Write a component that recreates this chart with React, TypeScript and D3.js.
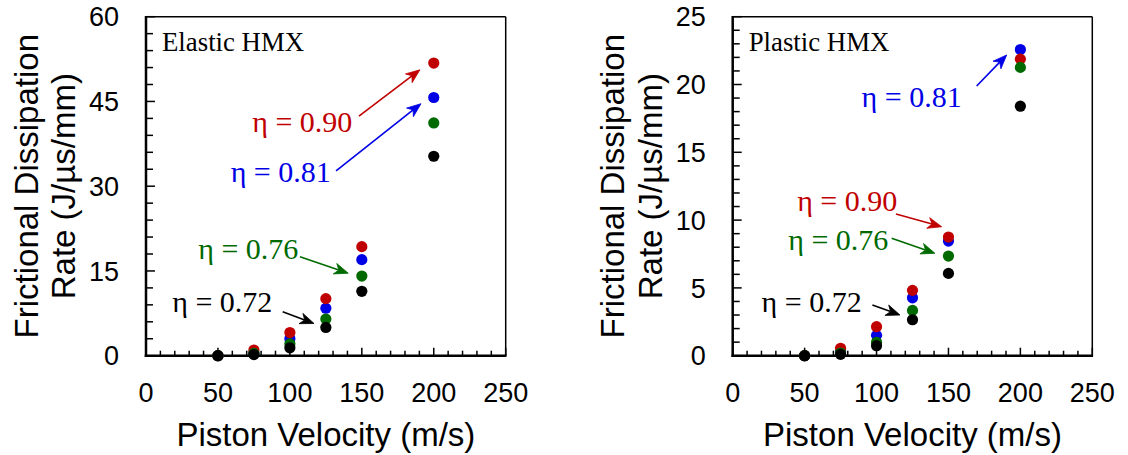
import React from "react";
import * as d3 from "d3";

const velocities = [50, 75, 100, 125, 150, 200];

// Elastic HMX
const elastic090 = [0, 1.0, 4.1, 10.1, 19.3, 51.8];
const elastic081 = [0, 0.5, 3.0, 8.4, 17.0, 45.7];
const elastic076 = [0, 0.4, 2.1, 6.5, 14.1, 41.2];
const elastic072 = [0, 0.2, 1.4, 5.0, 11.4, 35.3];

// Plastic HMX
const plastic090 = [0, 0.55, 2.14, 4.82, 8.75, 21.87];
const plastic081 = [0, 0.3, 1.5, 4.27, 8.45, 22.58];
const plastic076 = [0, 0.2, 0.99, 3.34, 7.35, 21.26];
const plastic072 = [0, 0.1, 0.74, 2.65, 6.07, 18.4];

const xTicks = [0, 50, 100, 150, 200, 250];
const elasticYTicks = [0, 15, 30, 45, 60];
const plasticYTicks = [0, 5, 10, 15, 20, 25];

const RED = "#c00000";
const BLUE = "#0000e6";
const GREEN = "#006a00";
const BLACK = "#000000";

type Series = { name: string; color: string; values: number[] };
type Note = { label: string; color: string; tx: number; ty: number; ax: number; ay: number; bx: number; by: number };

const elasticSeries: Series[] = [
  { name: "0.81", color: BLUE, values: elastic081 },
  { name: "0.90", color: RED, values: elastic090 },
  { name: "0.76", color: GREEN, values: elastic076 },
  { name: "0.72", color: BLACK, values: elastic072 },
];
const plasticSeries: Series[] = [
  { name: "0.81", color: BLUE, values: plastic081 },
  { name: "0.90", color: RED, values: plastic090 },
  { name: "0.76", color: GREEN, values: plastic076 },
  { name: "0.72", color: BLACK, values: plastic072 },
];

// annotations in data coordinates: text end (tx,ty), arrow from (ax,ay) to (bx,by)
const elasticNotes: Note[] = [
  { label: "η = 0.90", color: RED, tx: 143.4, ty: 39.6, ax: 148.0, ay: 42.4, bx: 190.4, by: 50.6 },
  { label: "η = 0.81", color: BLUE, tx: 128.4, ty: 30.8, ax: 132.1, ay: 32.7, bx: 191.1, by: 44.6 },
  { label: "η = 0.76", color: GREEN, tx: 105.9, ty: 17.2, ax: 107.0, ay: 17.5, bx: 140.6, by: 14.6 },
  { label: "η = 0.72", color: BLACK, tx: 87.8, ty: 7.8, ax: 95.0, ay: 7.8, bx: 116.8, by: 5.7 },
];
const plasticNotes: Note[] = [
  { label: "η = 0.81", color: BLUE, tx: 159.2, ty: 18.36, ax: 169.6, ay: 19.89, bx: 190.5, by: 22.18 },
  { label: "η = 0.90", color: RED, tx: 114.4, ty: 10.69, ax: 113.5, ay: 10.45, bx: 145.3, by: 9.51 },
  { label: "η = 0.76", color: GREEN, tx: 108.2, ty: 7.8, ax: 110.5, ay: 8.66, bx: 140.6, by: 7.55 },
  { label: "η = 0.72", color: BLACK, tx: 89.7, ty: 3.24, ax: 97.1, ay: 3.74, bx: 116.3, by: 3.0 },
];

const SANS = "'Liberation Sans', Arial, sans-serif";
const SERIF = "'Liberation Serif', 'Times New Roman', serif";

function Arrow({ x1, y1, x2, y2, color }: { x1: number; y1: number; x2: number; y2: number; color: string }) {
  const ang = Math.atan2(y2 - y1, x2 - x1);
  const L = 14, W = 5.5, N = 10;
  const ux = Math.cos(ang), uy = Math.sin(ang);
  const px = -uy, py = ux;
  const bx = x2 - ux * L, by = y2 - uy * L;
  const nx = x2 - ux * N, ny = y2 - uy * N;
  const head = `M${x2},${y2} L${bx + px * W},${by + py * W} L${nx},${ny} L${bx - px * W},${by - py * W} Z`;
  return (
    <g>
      <line x1={x1} y1={y1} x2={nx} y2={ny} stroke={color} strokeWidth={1.6} />
      <path d={head} fill={color} stroke={color} strokeWidth={0.8} strokeLinejoin="miter" />
    </g>
  );
}

function Panel({ left, right, yMax, yTicks, minorStep, series, notes, title }: {
  left: number; right: number; yMax: number; yTicks: number[]; minorStep: number;
  series: Series[]; notes: Note[]; title: string;
}) {
  const top = 16.7, bottom = 355.7;
  const x = d3.scaleLinear().domain([0, 250]).range([left, right]);
  const y = d3.scaleLinear().domain([0, yMax]).range([bottom, top]);
  const xMinor = d3.range(0, 250.001, 10);
  const yMinor = d3.range(0, yMax + 0.001, minorStep);
  const isMajorX = (v: number) => Math.abs(v % 50) < 1e-6;
  const majorYStep = yTicks[1] - yTicks[0];
  const isMajorY = (v: number) => Math.abs(((v + 1e-6) % majorYStep)) < 1e-3;
  return (
    <g>
      {/* ticks */}
      {xMinor.map((v) => (
        <line key={"xt" + v} x1={x(v)} x2={x(v)} y1={bottom} y2={bottom - (isMajorX(v) ? 8 : 5)} stroke="#000" strokeWidth={1.5} />
      ))}
      {yMinor.map((v) => (
        <line key={"yt" + v} x1={left} x2={left + (isMajorY(v) ? 9 : 7)} y1={y(v)} y2={y(v)} stroke="#000" strokeWidth={1.5} />
      ))}
      {/* frame */}
      <line x1={left} x2={right} y1={top} y2={top} stroke="#000" strokeWidth={1.5} />
      <line x1={right} x2={right} y1={top} y2={bottom} stroke="#000" strokeWidth={1.5} />
      <line x1={left} x2={left} y1={top - 0.75} y2={bottom + 1.25} stroke="#000" strokeWidth={2.5} />
      <line x1={left - 1.25} x2={right + 0.75} y1={bottom} y2={bottom} stroke="#000" strokeWidth={2.5} />
      {/* tick labels */}
      {xTicks.map((v) => (
        <text key={"xl" + v} x={x(v)} y={bottom + 46} textAnchor="middle" fontFamily={SANS} fontSize={27}>{v}</text>
      ))}
      {yTicks.map((v) => (
        <text key={"yl" + v} x={left - 27} y={y(v)} dy="0.36em" textAnchor="end" fontFamily={SANS} fontSize={27}>{v}</text>
      ))}
      {/* axis titles */}
      <text x={(left + right) / 2} y={446} textAnchor="middle" fontFamily={SANS} fontSize={33}>Piston Velocity (m/s)</text>
      <g transform={`translate(${left - 108.5},${(top + bottom) / 2}) rotate(-90)`}>
        <text x={0} y={0} textAnchor="middle" fontFamily={SANS} fontSize={33}>Frictional Dissipation</text>
        <text x={0} y={37.5} textAnchor="middle" fontFamily={SANS} fontSize={33}>Rate (J/µs/mm)</text>
      </g>
      {/* panel title */}
      <text x={left + 16} y={50.7} fontFamily={SERIF} fontSize={26.8}>{title}</text>
      {/* points */}
      {series.map((s) => (
        <g key={s.name}>
          {s.values.map((v, i) => (
            <circle key={i} cx={x(velocities[i])} cy={y(v)} r={5.6} fill={s.color} />
          ))}
        </g>
      ))}
      {/* annotations */}
      {notes.map((n) => (
        <g key={n.label + n.color}>
          <text x={x(n.tx)} y={y(n.ty)} textAnchor="end" fontFamily={SERIF} fontSize={30} fill={n.color}>{n.label}</text>
          <Arrow x1={x(n.ax)} y1={y(n.ay)} x2={x(n.bx)} y2={y(n.by)} color={n.color} />
        </g>
      ))}
    </g>
  );
}

export default function App() {
  return (
    <svg width={1128} height={455} style={{ position: "absolute", left: 0, top: 0, background: "#fff" }}>
      <rect x={0} y={0} width={1128} height={455} fill="#fff" />
      <Panel left={146} right={505.7} yMax={60} yTicks={elasticYTicks} minorStep={3} series={elasticSeries} notes={elasticNotes} title="Elastic HMX" />
      <Panel left={732.7} right={1092.3} yMax={25} yTicks={plasticYTicks} minorStep={1} series={plasticSeries} notes={plasticNotes} title="Plastic HMX" />
    </svg>
  );
}
